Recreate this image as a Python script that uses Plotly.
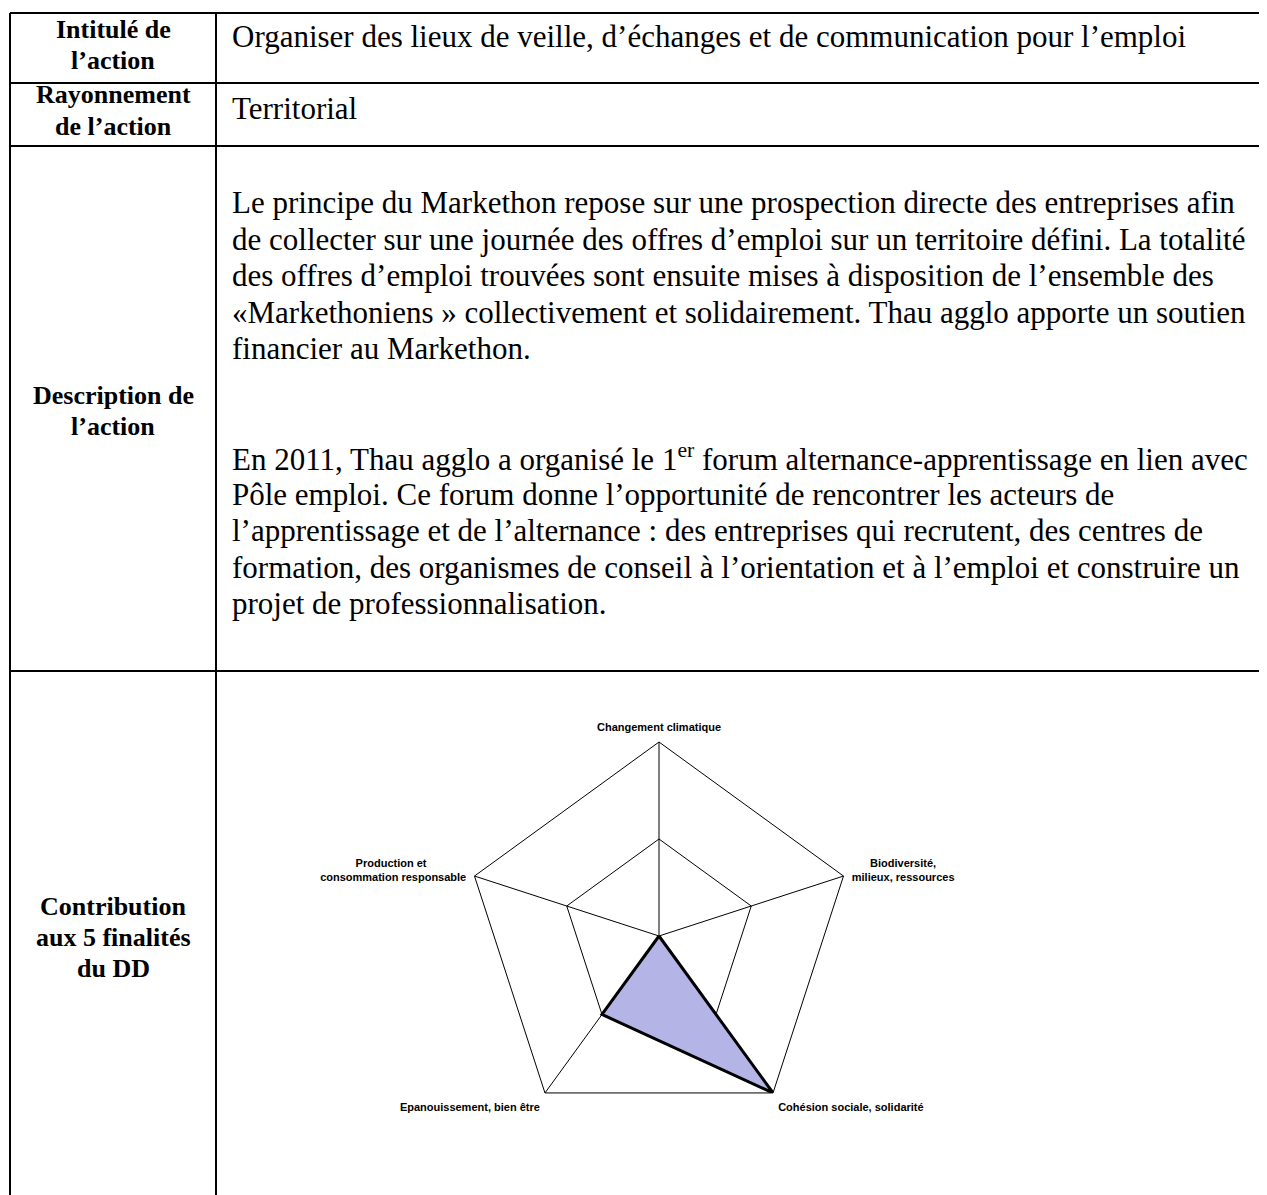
import plotly.graph_objects as go

# ---------------- data ----------------
axes_labels = [
    "Changement climatique",
    "\u00a0" * 6 + "Biodiversité,<br>milieux, ressources",
    "Cohésion sociale, solidarité",
    "Epanouissement, bien être",
    "Production et" + "\u00a0" * 13 + "<br>consommation responsable",
]
scores = [0, 0, 2, 1, 0]

row_labels = [
    ["Intitulé de", "l’action"],
    ["Rayonnement", "de l’action"],
    ["Description de", "l’action"],
    ["Contribution", "aux 5 finalités", "du DD"],
]
title_text = "Organiser des lieux de veille, d’échanges et de communication pour l’emploi"
scope_text = "Territorial"
description_lines = [
    "Le principe du Markethon repose sur une prospection directe des entreprises afin",
    "de collecter sur une journée des offres d’emploi sur un territoire défini. La totalité",
    "des offres d’emploi trouvées sont ensuite mises à disposition de l’ensemble des",
    "«Markethoniens » collectivement et solidairement. Thau agglo apporte un soutien",
    "financier au Markethon.",
    "",
    "",
    "En 2011, Thau agglo a organisé le 1<sup>er</sup> forum alternance-apprentissage en lien avec",
    "Pôle emploi. Ce forum donne l’opportunité de rencontrer les acteurs de",
    "l’apprentissage et de l’alternance : des entreprises qui recrutent, des centres de",
    "formation, des organismes de conseil à l’orientation et à l’emploi et construire un",
    "projet de professionnalisation.",
]

# ---------------- page geometry (page pixels; body has an 8px margin) ----------------
PAGE_W, PAGE_H = 1267, 1195
OFF = 8
W, H = PAGE_W - OFF, PAGE_H - OFF


def X(px):
    return (px - OFF) / W


def Y(py):
    return 1 - (py - OFF) / H


left_x, div_x = 10, 216
row_y = [13, 83, 146, 671]

shapes = []
lw = 2
for y in row_y:
    shapes.append(dict(type="line", xref="paper", yref="paper",
                       x0=X(left_x), x1=1.0, y0=Y(y), y1=Y(y),
                       line=dict(color="black", width=lw)))
for x in (left_x, div_x):
    shapes.append(dict(type="line", xref="paper", yref="paper",
                       x0=X(x), x1=X(x), y0=Y(row_y[0]), y1=0.0,
                       line=dict(color="black", width=lw)))

serif = "Liberation Serif"
annotations = []
label_cx = (left_x + div_x) / 2
label_positions = [[29, 60], [94, 126], [395, 426], [906, 937, 968]]
for lines, ys in zip(row_labels, label_positions):
    for t, y in zip(lines, ys):
        annotations.append(dict(xref="paper", yref="paper", x=X(label_cx), y=Y(y),
                                text=f"<b>{t}</b>", showarrow=False,
                                xanchor="center", yanchor="middle",
                                font=dict(family=serif, size=26, color="black")))

text_x = 230
val_size = 31
annotations.append(dict(xref="paper", yref="paper", x=X(text_x), y=Y(36),
                        text=title_text, showarrow=False, xanchor="left", yanchor="middle",
                        font=dict(family=serif, size=val_size, color="black")))
annotations.append(dict(xref="paper", yref="paper", x=X(text_x), y=Y(108),
                        text=scope_text, showarrow=False, xanchor="left", yanchor="middle",
                        font=dict(family=serif, size=val_size, color="black")))
y0, dy = 203, 36.4
for i, t in enumerate(description_lines):
    if not t:
        continue
    annotations.append(dict(xref="paper", yref="paper", x=X(text_x), y=Y(y0 + i * dy),
                            text=t, showarrow=False, xanchor="left", yanchor="middle",
                            font=dict(family=serif, size=val_size, color="black")))

# ---------------- radar ----------------
cx, cy, R = 659, 936, 194
fig = go.Figure()
fig.add_trace(go.Scatterpolar(
    r=scores + scores[:1],
    theta=axes_labels + axes_labels[:1],
    mode="lines",
    fill="toself",
    fillcolor="#b4b4e6",
    line=dict(color="black", width=3),
    showlegend=False,
    hoverinfo="skip",
))

fig.update_layout(
    width=W, height=H,
    margin=dict(l=0, r=0, t=0, b=0),
    paper_bgcolor="white",
    plot_bgcolor="white",
    shapes=shapes,
    annotations=annotations,
    polar=dict(
        domain=dict(x=[X(cx - R), X(cx + R)], y=[Y(cy + R), Y(cy - R)]),
        gridshape="linear",
        bgcolor="white",
        radialaxis=dict(range=[0, 2], tick0=0, dtick=1, showticklabels=False,
                        ticks="", showline=False, gridcolor="black", gridwidth=1),
        angularaxis=dict(rotation=90, direction="clockwise", gridcolor="black",
                         gridwidth=1, linecolor="black", linewidth=1, showline=True,
                         ticks="outside", ticklen=6, tickcolor="rgba(0,0,0,0)",
                         tickfont=dict(family="Liberation Sans", size=11,
                                       color="black", weight="bold")),
    ),
)

fig.write_html("out.html")
